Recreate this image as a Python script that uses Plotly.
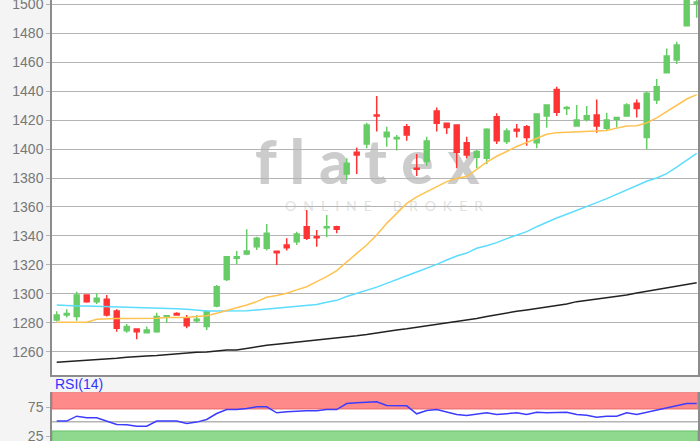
import plotly.graph_objects as go

# ---- data ----
open_ = [1282, 1285.5, 1284.4, 1299.3, 1294.7, 1296.3, 1288.3, 1274.7, 1275.9, 1273.3,
         1274, 1284, 1286.5, 1283, 1281.6, 1277.5, 1291.7, 1310, 1324.6, 1327.6,
         1332.6, 1331.5, 1329.4, 1333.8, 1336, 1346.4, 1339.5, 1345.7, 1346.4, 1382.8,
         1397.7, 1403.4, 1423.4, 1408.5, 1407.1, 1415.4, 1386.7, 1391.3, 1426.2, 1417.7,
         1416.6, 1404.4, 1394.3, 1393.6, 1422.3, 1405.1, 1413.6, 1415.4, 1404.4, 1422.8,
         1441.1, 1428, 1415.9, 1420.5, 1423.4, 1414.3, 1420.5, 1422.8, 1431.5, 1408,
         1433.8, 1452.6, 1461.4, 1485, 1500]
high = [1288, 1289.5, 1301.6, 1299.8, 1300.5, 1299.3, 1289.4, 1279.3, 1275.9, 1277.5,
        1287, 1285.5, 1287.4, 1285.5, 1285.5, 1289, 1306.2, 1326.2, 1329.7, 1344.6,
        1339.5, 1348.3, 1329.4, 1338.4, 1343, 1357.9, 1344.1, 1354.5, 1347, 1393.6,
        1401.1, 1418.2, 1436.5, 1415.4, 1409.7, 1417.2, 1396.6, 1408.5, 1428.7, 1418.2,
        1416.6, 1408.5, 1399.3, 1414.3, 1424.6, 1414.3, 1417.2, 1416.6, 1424.1, 1430.3,
        1443, 1429.7, 1430.3, 1429.7, 1434.2, 1425, 1422.3, 1431.5, 1434.2, 1439.5,
        1448.3, 1469.4, 1474, 1512, 1506]
low = [1281, 1283.7, 1281.6, 1294, 1293, 1284.4, 1274, 1273.3, 1268.7, 1272.9,
       1273.3, 1280.2, 1285, 1276.3, 1280.2, 1275.2, 1290.8, 1309, 1320.5, 1326.9,
       1330.3, 1329.9, 1320, 1329.9, 1333.8, 1337.2, 1332.6, 1339.1, 1341.8, 1378.6,
       1382.8, 1400.5, 1412, 1401.6, 1398.9, 1405.7, 1381.4, 1388.5, 1412, 1410.3,
       1386.7, 1393.6, 1386.7, 1389.7, 1403.4, 1403.4, 1408, 1402.3, 1400.5, 1414.7,
       1422.8, 1423.4, 1415.9, 1418.9, 1411.3, 1412.6, 1414.9, 1422.8, 1421.8, 1399.8,
       1431, 1452.6, 1458.6, 1484.8, 1490.5]
close = [1285.5, 1286.5, 1299.3, 1294.7, 1297, 1285.5, 1276.3, 1277.5, 1274, 1275.2,
         1284.4, 1285, 1285.5, 1278, 1282.5, 1287.8, 1305, 1325.7, 1325.7, 1329.7,
         1338.4, 1341.8, 1328.5, 1331.8, 1341.4, 1338.4, 1338.8, 1346.4, 1344.6, 1390.1,
         1395.9, 1416.6, 1422.8, 1411.5, 1408, 1409.7, 1386, 1405.5, 1417.7, 1414.9,
         1397.7, 1395.9, 1398.2, 1413.6, 1405.7, 1412.4, 1412.4, 1408, 1424.1, 1430.3,
         1425.3, 1428.7, 1420, 1423, 1415.9, 1420, 1421.8, 1430.3, 1428, 1438.4,
         1443, 1464.1, 1471.7, 1508, 1501.5]

ma_short = [1280.5, 1280.5, 1280.5, 1280.5, 1282.5, 1283, 1283, 1283, 1283, 1283,
            1283.2, 1283.7, 1283.7, 1283.7, 1284.4, 1285, 1286.7, 1288.5, 1290.8, 1292.4,
            1294.7, 1297.7, 1298.9, 1300.5, 1302.8, 1305, 1308.5, 1312, 1316.1, 1322.3,
            1328, 1333.8, 1340.7, 1348.7, 1355.6, 1362.5, 1367, 1370.6, 1374, 1377.5,
            1379.8, 1381, 1386, 1391, 1395, 1398.4, 1401.7, 1404.5, 1407.5, 1410.2,
            1411.3, 1411.5, 1411.7, 1411.8, 1412.4, 1412.7, 1414.4, 1415.9, 1416, 1418,
            1421.5, 1426, 1430.5, 1434.5, 1437.5]
ma_mid = [1292.4, 1291.8, 1291.7, 1291.7, 1291.5, 1291.3, 1291.3, 1291.2, 1291, 1290.6,
          1290.3, 1290.1, 1289.8, 1289.4, 1288.6, 1288.3, 1288.3, 1288.3, 1288.3, 1288.5,
          1289, 1289.6, 1290.3, 1290.9, 1291.3, 1292, 1292.8, 1294.2, 1295.6, 1298.2,
          1300.3, 1302.4, 1304.7, 1307.3, 1310.1, 1312.6, 1315.1, 1317.6, 1320.4, 1323.4,
          1326.2, 1328.2, 1331.5, 1333.3, 1335.4, 1338.2, 1340.6, 1343, 1346.4, 1349.6,
          1352.4, 1355, 1357.5, 1360.2, 1363, 1365.8, 1368.7, 1371.7, 1374.8, 1377.8,
          1380, 1383, 1387.5, 1392, 1397]
ma_long = [1252.9, 1253.3, 1253.7, 1254.5, 1254.9, 1255.2, 1255.6, 1256.3, 1256.9, 1257.2,
           1257.5, 1258.2, 1258.8, 1259.5, 1259.8, 1260, 1260.7, 1261.4, 1261.4, 1262.6,
           1263.7, 1264.6, 1265.3, 1266, 1266.7, 1267.3, 1267.9, 1268.5, 1269.3, 1270.2,
           1271.1, 1272, 1273.2, 1274.2, 1275.2, 1276, 1277, 1278, 1279, 1280.3,
           1281.2, 1281.8, 1283, 1284.5, 1285.8, 1287, 1288, 1289, 1290, 1291,
           1292, 1293, 1294.7, 1295.6, 1296.5, 1297.3, 1298.2, 1299.3, 1300.6, 1301.8,
           1302.8, 1303.9, 1305, 1306.5, 1307.8]
rsi = [51, 51, 59.5, 56.7, 56.7, 51, 45.2, 44.8, 42.3, 42.3,
       51, 51, 51, 47, 49.3, 53.8, 64.1, 71, 71, 72.8,
       75.6, 75.6, 65.3, 67, 68.2, 68.7, 68.7, 71, 71, 81.4,
       82.5, 84, 84.3, 78, 77.4, 77.4, 63.6, 69.3, 71, 67,
       62.4, 60.7, 63.6, 65.3, 62.4, 64.1, 65.3, 62.4, 66.4, 65.3,
       65.3, 66.4, 62.4, 61.3, 57.8, 59.5, 59.5, 65.3, 62.4, 66.4,
       69.8, 73.9, 77.4, 81.4, 81.4]

price_ticks = [1260, 1280, 1300, 1320, 1340, 1360, 1380, 1400, 1420, 1440, 1460, 1480, 1500]
rsi_ticks = [25, 75]

day = list(range(len(close)))

# ---- figure ----
GREEN = "#66cc66"
RED = "#ff3333"
GRID = "#b4b4b4"
AXIS = "#8c8c8c"
TICKFONT = dict(family="Liberation Sans, Arial, sans-serif", size=14, color="#777777")

fig = go.Figure()

fig.add_trace(go.Scatter(x=day, y=ma_long, mode="lines", line=dict(color="#222222", width=1.5),
                         xaxis="x", yaxis="y", hoverinfo="skip"))
fig.add_trace(go.Scatter(x=day, y=ma_mid, mode="lines", line=dict(color="#5cdcff", width=1.5),
                         xaxis="x", yaxis="y", hoverinfo="skip"))
fig.add_trace(go.Scatter(x=day, y=ma_short, mode="lines", line=dict(color="#ffc24f", width=1.5),
                         xaxis="x", yaxis="y", hoverinfo="skip"))
fig.add_trace(go.Candlestick(
    x=day, open=open_, high=high, low=low, close=close,
    increasing=dict(line=dict(color=GREEN, width=1.5), fillcolor=GREEN),
    decreasing=dict(line=dict(color=RED, width=1.5), fillcolor=RED),
    whiskerwidth=0, xaxis="x", yaxis="y"))

fig.add_trace(go.Scatter(x=day, y=rsi, mode="lines", line=dict(color="#3c3cff", width=1.5),
                         xaxis="x2", yaxis="y2", hoverinfo="skip"))

xr = [-0.47, 64.13]
fig.update_layout(
    width=700, height=441,
    margin=dict(l=52, r=2, t=0, b=0, autoexpand=False),
    paper_bgcolor="#f4f4f4", plot_bgcolor="#ffffff",
    showlegend=False,
    xaxis=dict(domain=[0, 1], range=xr, anchor="y", showgrid=False, showticklabels=False,
               showline=True, linecolor=AXIS, linewidth=1.5, ticks="", zeroline=False,
               automargin=False, rangeslider=dict(visible=False)),
    yaxis=dict(domain=[0.1497, 1], range=[1244.1, 1502.8], anchor="x",
               tickvals=price_ticks, showgrid=True, gridcolor=GRID, gridwidth=1,
               showline=True, mirror=True, linecolor=AXIS, linewidth=1.5, automargin=False,
               ticklabeloverflow="allow",
               ticks="outside", ticklen=4, tickcolor=GRID, tickfont=TICKFONT, zeroline=False),
    xaxis2=dict(domain=[0, 1], range=xr, anchor="y2", showgrid=False, showticklabels=False,
                showline=False, zeroline=False, automargin=False),
    yaxis2=dict(domain=[0, 0.1104], range=[16.7, 100.7], anchor="x2",
                tickvals=rsi_ticks, showgrid=False, automargin=False,
                ticklabeloverflow="allow",
                showline=True, mirror=True, linecolor=AXIS, linewidth=1.5,
                ticks="outside", ticklen=4, tickcolor=GRID, tickfont=TICKFONT, zeroline=False),
)

shapes = [
    # watermark
    dict(type="rect", xref="paper", yref="paper", x0=0.30, x1=0.676, y0=0.58, y1=0.694,
         line=dict(width=0), layer="below",
         label=dict(text="f l a t e x", textposition="middle center",
                    font=dict(family="Lato, sans-serif", size=60, color="#cccccc", weight=900))),
    dict(type="rect", xref="paper", yref="paper", x0=0.30, x1=0.728, y0=0.51, y1=0.556,
         line=dict(width=0), layer="below",
         label=dict(text="O\u2002N\u2002L\u2002I\u2002N\u2002E\u2003\u2003B\u2002R\u2002O\u2002K\u2002E\u2002R",
                    textposition="middle center",
                    font=dict(family="Lato, sans-serif", size=14, color="#e2e2e2"))),
    # RSI zones
    dict(type="rect", xref="x2 domain", yref="y2", x0=0, x1=1, y0=72, y1=100.7,
         fillcolor="#ff8a8a", line=dict(color="#e86a6a", width=1), layer="below"),
    dict(type="rect", xref="x2 domain", yref="y2", x0=0, x1=1, y0=10, y1=34,
         fillcolor="#8ed98e", line=dict(color="#68bf68", width=1), layer="below"),
    dict(type="line", xref="x2 domain", yref="y2", x0=0, x1=1, y0=50, y1=50,
         line=dict(color="#b4b4b4", width=1.5), layer="below"),
]
fig.update_layout(shapes=shapes)

fig.add_annotation(text="RSI(14)", xref="paper", yref="paper", x=0, y=(441 - 384) / 441,
                   xanchor="left", yanchor="middle", xshift=1, showarrow=False,
                   font=dict(family="Liberation Sans, Arial, sans-serif", size=14, color="#3333ff"))

fig.write_html("out.html",
               config={"displayModeBar": False},
               post_script="document.body.style.margin='0';document.body.style.padding='0';"
                           "document.body.style.overflow='hidden';")
